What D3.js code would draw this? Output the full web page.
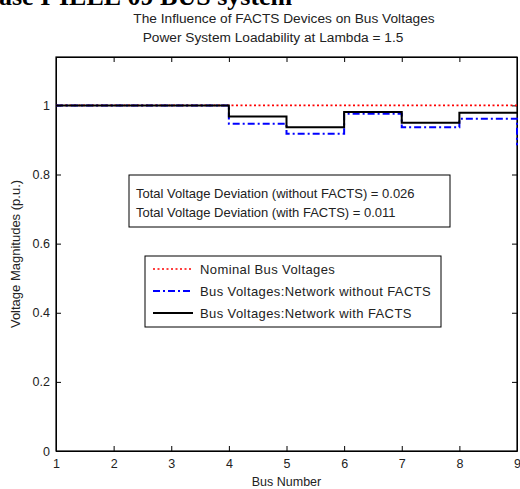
<!DOCTYPE html>
<html>
<head>
<meta charset="utf-8">
<script src="https://d3js.org/d3.v7.min.js"></script>
<style>
  body { margin: 0; background: #fff; }
  svg { display: block; font-family: "Liberation Sans", Arial, sans-serif; }
  .axis path, .axis line { stroke: #000; }
  .axis text { font-size: 12.5px; fill: #222; }
</style>
</head>
<body>
<div id="chart"></div>
<script>
let width = 520;
let height = 489;
let margins = { top: 57, right: 3, bottom: 38, left: 56 };

// bus numbers and voltage magnitudes (p.u.)
let buses = [1, 2, 3, 4, 5, 6, 7, 8, 9];
let nominal = [1, 1, 1, 1, 1, 1, 1, 1, 1];
let withoutFacts = [1, 1, 1, 0.947, 0.918, 0.976, 0.937, 0.961, 0.885];
let withFacts = [1, 1, 1, 0.968, 0.937, 0.981, 0.950, 0.979, 0.979];
let yTicks = [0, 0.2, 0.4, 0.6, 0.8, 1];
let deviationText = [
    "Total Voltage Deviation (without FACTS) =  0.026",
    "Total Voltage Deviation (with FACTS) = 0.011"
];
let legendLabels = [
    "Nominal Bus Voltages",
    "Bus Voltages:Network without FACTS",
    "Bus Voltages:Network with FACTS"
];

let w = width - margins.left - margins.right;
let h = height - margins.top - margins.bottom;

let svg = d3.select("#chart")
    .append('svg')
    .attr('width', width)
    .attr('height', height);

// cropped page heading above the figure
svg.append('text')
    .attr('x', -1)
    .attr('y', 5)
    .style('font-family', '"Liberation Serif", "Times New Roman", serif')
    .style('font-weight', 'bold')
    .style('font-size', '26px')
    .text("ase I-IEEE 09 BUS system");

let g = svg.append('g')
    .attr('transform', 'translate(' + margins.left + ',' + margins.top + ')');

let x = d3.scaleLinear().domain([1, 9]).range([0, w]);
let y = d3.scaleLinear().domain([0, 1.14]).range([h, 0]);

g.append('g')
    .attr('class', 'axis')
    .attr('transform', 'translate(0,' + h + ')')
    .call(d3.axisBottom(x).ticks(9).tickSizeInner(-5).tickSizeOuter(0).tickPadding(8));
g.append('g')
    .attr('class', 'axis')
    .call(d3.axisTop(x).ticks(9).tickSizeInner(-5).tickSizeOuter(0).tickFormat(''));
g.append('g')
    .attr('class', 'axis')
    .call(d3.axisLeft(y).tickValues(yTicks).tickSizeInner(-5).tickSizeOuter(0).tickPadding(6).tickFormat(d3.format('~g')));
g.append('g')
    .attr('class', 'axis')
    .attr('transform', 'translate(' + w + ',0)')
    .call(d3.axisRight(y).tickValues(yTicks).tickSizeInner(-5).tickSizeOuter(0).tickFormat(''));

g.append('rect')
    .attr('width', w)
    .attr('height', h)
    .attr('fill', 'none')
    .attr('stroke', '#000')
    .attr('stroke-width', 1.2);

let line = d3.line()
    .x((d, i) => x(buses[i]))
    .y(d => y(d))
    .curve(d3.curveStepAfter);

let series = [
    { values: nominal, color: '#ff0000', dash: '2,2.5', width: 1.6 },
    { values: withoutFacts, color: '#0000ff', dash: '7,3,2,3', width: 2 },
    { values: withFacts, color: '#000', dash: null, width: 2 }
];

g.selectAll('path.series')
    .data(series)
    .enter()
    .append('path')
    .attr('class', 'series')
    .attr('d', d => line(d.values))
    .attr('fill', 'none')
    .attr('stroke', d => d.color)
    .attr('stroke-width', d => d.width)
    .attr('stroke-dasharray', d => d.dash);

// titles
svg.append('text')
    .attr('x', 284)
    .attr('y', 23)
    .attr('text-anchor', 'middle')
    .style('font-size', '13.7px')
    .style('fill', '#222')
    .text("The Influence of FACTS Devices on Bus Voltages");
svg.append('text')
    .attr('x', 273)
    .attr('y', 42)
    .attr('text-anchor', 'middle')
    .style('font-size', '13.7px')
    .style('fill', '#222')
    .text("Power System Loadability at Lambda = 1.5");

// axis labels
svg.append('text')
    .attr('x', margins.left + w / 2)
    .attr('y', 486)
    .attr('text-anchor', 'middle')
    .style('font-size', '12.5px')
    .style('fill', '#222')
    .text("Bus Number");
svg.append('text')
    .attr('transform', 'translate(20,' + (margins.top + h / 2) + ') rotate(-90)')
    .attr('text-anchor', 'middle')
    .style('font-size', '13px')
    .style('fill', '#222')
    .text("Voltage Magnitudes (p.u.)");

// deviation text box
svg.append('rect')
    .attr('x', 129).attr('y', 175)
    .attr('width', 321).attr('height', 52)
    .attr('fill', '#fff').attr('stroke', '#000');
svg.selectAll('text.dev')
    .data(deviationText)
    .enter()
    .append('text')
    .attr('class', 'dev')
    .attr('x', 136)
    .attr('y', (d, i) => 198 + i * 19)
    .style('font-size', '13px')
    .style('fill', '#222')
    .text(d => d);

// legend
let legend = svg.append('g').attr('transform', 'translate(145,256)');
legend.append('rect')
    .attr('width', 296).attr('height', 71)
    .attr('fill', '#fff').attr('stroke', '#000');
let items = legend.selectAll('g.item')
    .data(series)
    .enter()
    .append('g')
    .attr('class', 'item')
    .attr('transform', (d, i) => 'translate(0,' + (13 + i * 22) + ')');
items.append('line')
    .attr('x1', 8).attr('x2', 48)
    .attr('stroke', d => d.color)
    .attr('stroke-width', d => d.width)
    .attr('stroke-dasharray', d => d.dash);
items.append('text')
    .attr('x', 55)
    .attr('dy', '0.35em')
    .style('font-size', '13px')
    .style('letter-spacing', '0.4px')
    .style('fill', '#222')
    .text((d, i) => legendLabels[i]);
</script>
</body>
</html>
